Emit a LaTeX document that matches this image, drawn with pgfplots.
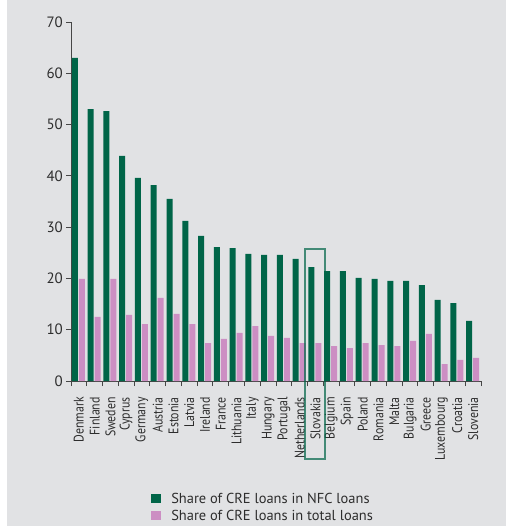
\documentclass[border=0pt]{standalone}
\usepackage{fontspec}
\setmainfont{PT Sans}
\newfontfamily\condfont[FakeStretch=0.85]{PT Sans}
\usepackage{pgfplots}
\pgfplotsset{compat=1.18}
\usepackage{pgfplotstable}

\definecolor{nfcgreen}{RGB}{0,101,72}
\definecolor{totpink}{RGB}{204,142,195}
\definecolor{panelgray}{RGB}{225,226,228}
\definecolor{axisgray}{RGB}{70,70,70}
\definecolor{txtgray}{RGB}{45,45,45}

% share of CRE loans, %
\pgfplotstableread{
idx nfc  total
0   63.0 19.9
1   53.0 12.5
2   52.6 19.9
3   43.9 12.9
4   39.6 11.1
5   38.2 16.2
6   35.5 13.1
7   31.2 11.1
8   28.3 7.4
9   26.1 8.2
10  25.9 9.4
11  24.8 10.7
12  24.6 8.8
13  24.6 8.4
14  23.8 7.4
15  22.2 7.4
16  21.4 6.8
17  21.4 6.4
18  20.1 7.4
19  19.9 7.0
20  19.5 6.8
21  19.5 7.8
22  18.7 9.2
23  15.8 3.3
24  15.2 4.1
25  11.7 4.5
}\creloans

\begin{document}
\begin{tikzpicture}
\useasboundingbox (0,0) rectangle (506bp,526bp);
\clip (0,0) rectangle (506bp,526bp);
\fill[white] (0,0) rectangle (506bp,526bp);
\fill[panelgray] (7bp,0) rectangle (506bp,526bp);
\begin{axis}[
  at={(71bp,145bp)}, anchor=south west,
  scale only axis, width=410bp, height=359bp,
  ybar, bar width=6bp,
  xmin=-0.5, xmax=25.5, ymin=0, ymax=70,
  axis lines*=left,
  axis line style={axisgray, line width=1bp, -},
  clip=false,
  tick align=outside,
  major tick length=5bp, minor tick length=5bp,
  tick style={axisgray, line width=1bp},
  major x tick style={draw=none},
  xtick={0,...,25},
  minor xtick={-0.5,0.5,...,25.5},
  xticklabels={Denmark,Finland,Sweden,Cyprus,Germany,Austria,Estonia,Latvia,Ireland,France,Lithuania,Italy,Hungary,Portugal,Netherlands,Slovakia,Belgium,Spain,Poland,Romania,Malta,Bulgaria,Greece,Luxembourg,Croatia,Slovenia},
  ytick={0,10,...,70},
  /pgf/number format/assume math mode=true,
  yticklabel style={font=\fontsize{15}{18}\selectfont, text=txtgray, inner xsep=3bp},
  xticklabel style={font=\condfont\fontsize{14}{16.8}\selectfont, text=txtgray,
    rotate=90, anchor=east, inner xsep=11bp},
  legend image code/.code={\fill[#1] (0bp,-4.5bp) rectangle (10bp,4.5bp);},
  legend style={at={(0.188,-0.303)}, anchor=north west, draw=none, fill=none,
    font=\fontsize{14.5}{17.4}\selectfont, text=txtgray, row sep=3bp,
    nodes={inner sep=1bp}},
  legend cell align=left,
]
\addplot[fill=nfcgreen, draw=none, bar shift=-4bp] table[x=idx, y=nfc] {\creloans};
\addlegendentry{\hspace{9bp}Share of CRE loans in NFC loans}
\addplot[fill=totpink, draw=none, bar shift=3bp] table[x=idx, y=total] {\creloans};
\addlegendentry{\hspace{9bp}Share of CRE loans in total loans}
\draw[nfcgreen, draw opacity=0.7, line width=1.6bp] (axis cs:14.34,-15.2) rectangle (axis cs:15.61,25.7);
\end{axis}
\end{tikzpicture}
\end{document}
